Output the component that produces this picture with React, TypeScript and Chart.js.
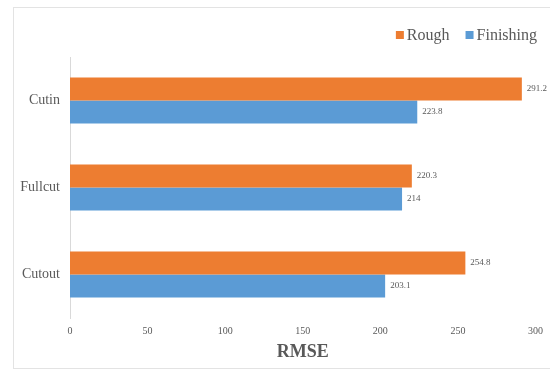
import React, { useEffect, useRef } from "react";
import { Chart, registerables } from "chart.js";

Chart.register(...registerables);

const categories = ["Cutin", "Fullcut", "Cutout"];
const roughValues = [291.2, 220.3, 254.8];
const finishingValues = [223.8, 214, 203.1];
const xTicks = [0, 50, 100, 150, 200, 250, 300];

const ORANGE = "#ED7D31";
const BLUE = "#5B9BD5";
const SERIF = "'Liberation Serif', 'Times New Roman', serif";

// Value labels at the end of each bar
const valueLabels = {
  id: "valueLabels",
  afterDatasetsDraw(chart: any) {
    const ctx = chart.ctx;
    ctx.save();
    ctx.font = `9px ${SERIF}`;
    ctx.fillStyle = "#595959";
    ctx.textAlign = "left";
    ctx.textBaseline = "middle";
    chart.data.datasets.forEach((ds: any, di: number) => {
      const meta = chart.getDatasetMeta(di);
      meta.data.forEach((bar: any, i: number) => {
        ctx.fillText(String(ds.data[i]), bar.x + 5, bar.y);
      });
    });
    ctx.restore();
  },
};

// Legend drawn at the top right
const topLegend = {
  id: "topLegend",
  afterDraw(chart: any) {
    const ctx = chart.ctx;
    ctx.save();
    ctx.font = `16px ${SERIF}`;
    ctx.textBaseline = "middle";
    ctx.textAlign = "left";
    const y = 35;
    const right = 537;
    const box = 8;
    const gap = 3;
    const itemGap = 16;
    const items = chart.data.datasets.map((d: any) => ({ label: d.label, color: d.backgroundColor }));
    const widths = items.map((it: any) => ctx.measureText(it.label).width);
    let total = 0;
    items.forEach((_: any, i: number) => {
      total += box + gap + widths[i] + (i < items.length - 1 ? itemGap : 0);
    });
    let x = right - total;
    items.forEach((it: any, i: number) => {
      ctx.fillStyle = it.color;
      ctx.fillRect(x, y - box / 2, box, box);
      x += box + gap;
      ctx.fillStyle = "#595959";
      ctx.fillText(it.label, x, y + 1);
      x += widths[i] + itemGap;
    });
    ctx.restore();
  },
};

export default function App() {
  const ref = useRef<HTMLCanvasElement | null>(null);

  useEffect(() => {
    document.body.style.margin = "0";
    if (!ref.current) return;
    const chart = new Chart(ref.current, {
      type: "bar",
      data: {
        labels: categories,
        datasets: [
          { label: "Rough", data: roughValues, backgroundColor: ORANGE },
          { label: "Finishing", data: finishingValues, backgroundColor: BLUE },
        ],
      },
      options: {
        indexAxis: "y",
        animation: false,
        responsive: false,
        maintainAspectRatio: false,
        layout: { padding: { top: 57, right: 12, left: 0, bottom: 0 } },
        plugins: {
          legend: { display: false },
          tooltip: { enabled: false },
        },
        datasets: {
          bar: { categoryPercentage: 0.53, barPercentage: 1 },
        },
        scales: {
          x: {
            min: 0,
            max: 300,
            afterBuildTicks(axis: any) {
              axis.ticks = xTicks.map((v) => ({ value: v }));
            },
            afterFit(axis: any) {
              axis.height = 52;
            },
            grid: { display: false, drawTicks: false },
            border: { display: false },
            ticks: {
              padding: 7,
              color: "#595959",
              font: { family: SERIF, size: 10 },
            },
            title: {
              display: true,
              text: "RMSE",
              color: "#595959",
              font: { family: SERIF, size: 18, weight: "bold" },
              padding: { top: 0, bottom: 7 },
            },
          },
          y: {
            afterFit(axis: any) {
              axis.width = 70;
            },
            grid: { display: false, drawTicks: false },
            border: { display: true, color: "#d9d9d9", width: 1 },
            ticks: {
              padding: 10,
              color: "#595959",
              font: { family: SERIF, size: 14 },
            },
          },
        },
      },
      plugins: [valueLabels, topLegend],
    });
    return () => chart.destroy();
  }, []);

  return (
    <div style={{ position: "relative", width: 550, height: 370, background: "#fff", overflow: "hidden" }}>
      <div
        style={{
          position: "absolute",
          left: 13,
          top: 7,
          width: 560,
          height: 362,
          border: "1px solid #e3e3e3",
          boxSizing: "border-box",
        }}
      />
      <canvas ref={ref} width={550} height={370} style={{ position: "absolute", left: 0, top: 0 }} />
    </div>
  );
}
